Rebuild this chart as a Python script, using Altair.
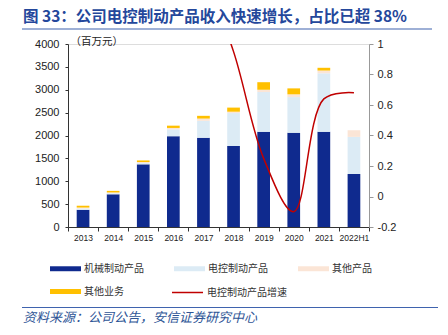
import altair as alt
import pandas as pd

categories = ["2013", "2014", "2015", "2016", "2017", "2018", "2019", "2020", "2021", "2022H1"]
series_names = ["机械制动产品", "电控制动产品", "其他产品", "其他业务"]
series_colors = ["#0F2A8E", "#DCEBF5", "#FBE5D6", "#FFC000"]
mech = [375, 715, 1370, 1985, 1950, 1770, 2080, 2060, 2080, 1160]
elec = [30, 25, 30, 150, 370, 720, 870, 780, 1280, 810]
other_prod = [20, 15, 20, 30, 50, 30, 50, 60, 60, 145]
other_biz = [40, 35, 35, 50, 60, 90, 165, 130, 60, 0]
growth_name = "电控制动产品增速"
growth_cats = ["2017", "2018", "2019", "2020", "2021", "2022H1"]
growth = [1.47, 0.95, 0.25, -0.10, 0.64, 0.68]
left_ticks = [0, 500, 1000, 1500, 2000, 2500, 3000, 3500, 4000]
right_ticks = [-0.2, 0, 0.2, 0.4, 0.6, 0.8, 1]

title_text = "图 33：公司电控制动产品收入快速增长，占比已超 38%"
source_text = "资料来源：公司公告，安信证券研究中心"
unit_text = "（百万元）"

rows = []
for i, (name, vals) in enumerate(zip(series_names, [mech, elec, other_prod, other_biz])):
    for c, v in zip(categories, vals):
        rows.append({"year": c, "series": name, "value": v, "idx": i})
bar_df = pd.DataFrame(rows)
line_df = pd.DataFrame({"year": growth_cats, "growth": growth, "name": growth_name})
one = pd.DataFrame({"k": [0]})

CJK = "Noto Sans CJK SC"
NUM = "Liberation Sans"

xscale = alt.Scale(domain=categories, paddingInner=0, paddingOuter=0)

bars = alt.Chart(bar_df).mark_bar(width=12.7).encode(
    x=alt.X("year:N", sort=categories, scale=xscale,
            axis=alt.Axis(title=None, labelAngle=0, labelFont=NUM, labelFontSize=8.5,
                          labelColor="#222", tickBand="extent", tickSize=4, labelPadding=2,
                          domainColor="#333", tickColor="#333", grid=False)),
    y=alt.Y("value:Q", stack="zero",
            scale=alt.Scale(domain=[0, 4000], nice=False),
            axis=alt.Axis(values=left_ticks, format="d", title=unit_text, titleAngle=0,
                          titleAlign="left", titleX=2, titleY=-3, titleBaseline="middle",
                          titleFont=CJK, titleFontSize=10.5, titleFontWeight="normal",
                          titleColor="#222", labelFont=NUM, labelFontSize=11,
                          labelColor="#222", tickSize=3, labelPadding=6,
                          domainColor="#333", tickColor="#333", grid=False)),
    fill=alt.Fill("series:N", scale=alt.Scale(domain=series_names, range=series_colors),
                  legend=alt.Legend(title=None, orient="none", legendX=-18, legendY=209,
                                    direction="horizontal", columns=3,
                                    symbolType="M-1,-0.16H1V0.16H-1Z", symbolSize=961,
                                    symbolStrokeWidth=0, labelFont=CJK, labelFontSize=10,
                                    labelColor="#333", labelOffset=3, columnPadding=30,
                                    rowPadding=2)),
    order=alt.Order("idx:Q", sort="ascending"),
)

line = alt.Chart(line_df).mark_line(interpolate="catmull-rom", clip=True, strokeWidth=1.5).encode(
    x=alt.X("year:N", sort=categories, scale=xscale),
    y=alt.Y("growth:Q", scale=alt.Scale(domain=[-0.2, 1], nice=False, zero=False),
            axis=alt.Axis(orient="right", values=right_ticks, labelExpr="'' + datum.value",
                          title=None, labelFont=NUM, labelFontSize=11, labelColor="#222",
                          tickSize=4, labelPadding=4, domainColor="#999", tickColor="#999",
                          grid=False)),
    stroke=alt.Stroke("name:N", scale=alt.Scale(domain=[growth_name], range=["#C00000"]),
                      legend=alt.Legend(title=None, orient="none", legendX=103, legendY=232,
                                        symbolType="M-1,0H1", symbolSize=961,
                                        symbolStrokeWidth=1.5, labelFont=CJK, labelFontSize=10,
                                        labelColor="#333", labelOffset=3)),
)

title = alt.Chart(one).mark_text(align="left", baseline="middle", font=CJK, fontSize=15.5,
                                 fontWeight="bold", color="#24479B").encode(
    x=alt.value(-45), y=alt.value(-27.5), text=alt.value(title_text))
top_rule = alt.Chart(one).mark_rule(color="#3F63AE", strokeWidth=1.2).encode(
    x=alt.value(-46), x2=alt.value(364), y=alt.value(-15))
bottom_rule = alt.Chart(one).mark_rule(color="#3F63AE", strokeWidth=1.2).encode(
    x=alt.value(-46), x2=alt.value(370), y=alt.value(263.5))
source = alt.Chart(one).mark_text(align="left", baseline="middle", font=CJK, fontSize=13,
                                  fontStyle="italic", color="#2E5596").encode(
    x=alt.value(-45), y=alt.value(274), text=alt.value(source_text))

chart = alt.layer(bars, line, title, top_rule, bottom_rule, source).resolve_scale(
    y="independent", fill="independent", stroke="independent"
).properties(
    width=301, height=183,
    padding={"left": 68, "top": 44, "right": 79, "bottom": 108},
    autosize=alt.AutoSizeParams(type="none"),
).configure_view(stroke=None).configure(background="white")

chart.save("out.html", embed_options={"renderer": "svg", "actions": False})
